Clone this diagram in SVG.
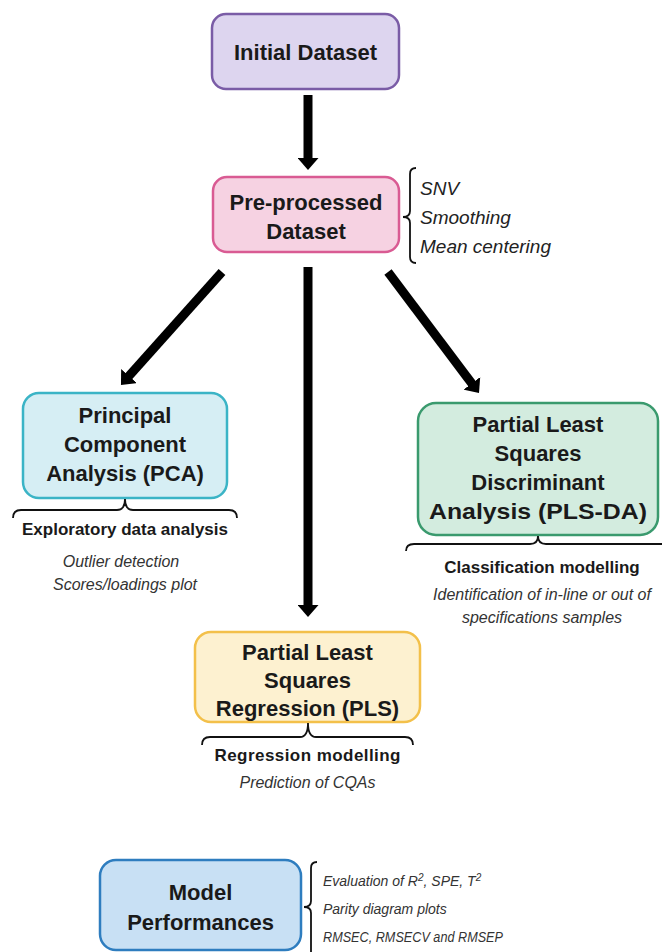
<svg xmlns="http://www.w3.org/2000/svg" width="662" height="952" viewBox="0 0 662 952">
<style>
.box{stroke-width:2.5}
.t{font-family:"Liberation Sans",Arial,sans-serif;font-weight:bold;font-size:22px;fill:#1a1a1a;text-anchor:middle}
.h{font-family:"Liberation Sans",Arial,sans-serif;font-weight:bold;font-size:17px;fill:#1a1a1a;text-anchor:middle}
.i{font-family:"Liberation Sans",Arial,sans-serif;font-style:italic;font-size:16px;fill:#333;text-anchor:middle}
.n{font-family:"Liberation Sans",Arial,sans-serif;font-style:italic;font-size:19px;fill:#222}
.m{font-family:"Liberation Sans",Arial,sans-serif;font-style:italic;font-size:14px;fill:#333}
.br{fill:none;stroke:#111;stroke-width:1.8}
.ar{fill:none;stroke:#000;stroke-width:9;marker-end:url(#ah)}
</style>
<defs>
<marker id="ah" markerUnits="userSpaceOnUse" markerWidth="13" markerHeight="21" viewBox="0 0 13 21" refX="1" refY="10.5" orient="auto">
<path d="M0,0 L12,10.5 L0,21 Z" fill="#000"/>
</marker>
</defs>

<g id="connectors">
<line class="ar" x1="308" y1="95" x2="308" y2="159"/>
<line class="ar" x1="308" y1="267" x2="308" y2="606"/>
<line class="ar" x1="222" y1="272" x2="128.3" y2="376.8"/>
<line class="ar" x1="388" y1="272" x2="472.4" y2="384.2"/>
</g>

<g id="initial">
<rect class="box" x="212" y="14" width="187" height="75" rx="14" fill="#ddd5ef" stroke="#7a5ca6"/>
<text class="t" x="305.5" y="60" font-size="23">Initial Dataset</text>
</g>

<g id="preprocessed">
<rect class="box" x="213" y="177" width="186" height="75" rx="14" fill="#f6d2e2" stroke="#d95b93"/>
<text class="t" x="306" y="210">Pre-processed</text>
<text class="t" x="306" y="239">Dataset</text>
<path class="br" d="M416,168 Q410,168 410,174 L410,211 Q410,217 403,217 Q410,217 410,223 L410,257 Q410,263 416,263"/>
<text class="n" x="420" y="195">SNV</text>
<text class="n" x="420" y="224">Smoothing</text>
<text class="n" x="420" y="253">Mean centering</text>
</g>

<g id="pca">
<rect class="box" x="23" y="393" width="204" height="105" rx="16" fill="#d6eef4" stroke="#3bb4c6"/>
<text class="t" x="125" y="423">Principal</text>
<text class="t" x="125" y="452">Component</text>
<text class="t" x="125" y="481">Analysis (PCA)</text>
<path class="br" d="M13,518 Q13,510 21,510 L117,510 Q125,510 125,499 Q125,510 133,510 L229,510 Q237,510 237,518"/>
<text class="h" x="125" y="535" font-size="18">Exploratory data analysis</text>
<text class="i" x="121" y="567" font-size="17">Outlier detection</text>
<text class="i" x="125" y="590" font-size="17">Scores/loadings plot</text>
</g>

<g id="plsda">
<rect class="box" x="418" y="403" width="240" height="132" rx="18" fill="#d3ecdf" stroke="#3a9a6e"/>
<text class="t" x="538" y="432">Partial Least</text>
<text class="t" x="538" y="461">Squares</text>
<text class="t" x="538" y="490">Discriminant</text>
<text class="t" x="538" y="519" textLength="218" lengthAdjust="spacingAndGlyphs">Analysis (PLS-DA)</text>
<path class="br" d="M406,551 Q406,544 414,544 L530,544 Q538,544 538,536 Q538,544 546,544 L662,544"/>
<text class="h" x="542" y="573">Classification modelling</text>
<text class="i" x="542" y="600" font-size="17">Identification of in-line or out of</text>
<text class="i" x="542" y="623" font-size="17">specifications samples</text>
</g>

<g id="pls">
<rect class="box" x="195" y="632" width="225" height="90" rx="16" fill="#fdf1d0" stroke="#f3c04a"/>
<text class="t" x="307.5" y="660">Partial Least</text>
<text class="t" x="307.5" y="688">Squares</text>
<text class="t" x="307.5" y="716">Regression (PLS)</text>
<path class="br" d="M202,745 Q202,737 210,737 L300,737 Q308,737 308,723 Q308,737 316,737 L405,737 Q413,737 413,745"/>
<text class="h" x="307.5" y="761" font-size="17.5" textLength="186">Regression modelling</text>
<text class="i" x="307.5" y="788" font-size="15.5">Prediction of CQAs</text>
</g>

<g id="model">
<rect class="box" x="100" y="860" width="201" height="90" rx="16" fill="#c8e0f4" stroke="#2e7dbf"/>
<text class="t" x="200.5" y="900" font-size="23">Model</text>
<text class="t" x="200.5" y="930" font-size="23">Performances</text>
<path class="br" d="M317,862 Q311,862 311,868 L311,901 Q311,907 304,907 Q311,907 311,913 L311,960"/>
<text class="m" x="323" y="886">Evaluation of R<tspan font-size="10" baseline-shift="super">2</tspan>, SPE, T<tspan font-size="10" baseline-shift="super">2</tspan></text>
<text class="m" x="323" y="914">Parity diagram plots</text>
<text class="m" x="323" y="942" textLength="180" lengthAdjust="spacingAndGlyphs">RMSEC, RMSECV and RMSEP</text>
</g>
</svg>
